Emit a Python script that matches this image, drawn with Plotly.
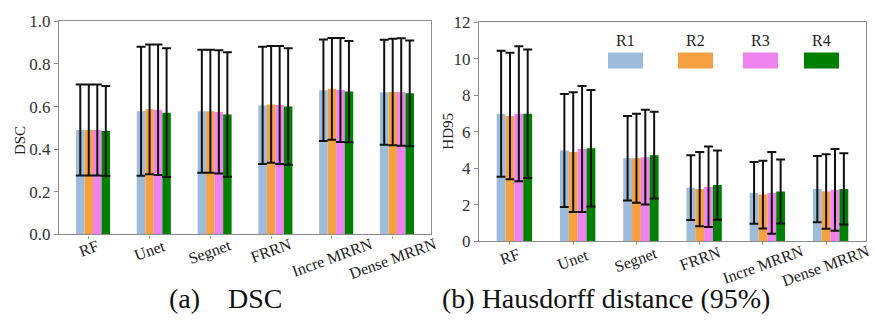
import plotly.graph_objects as go

methods = ["RF", "Unet", "Segnet", "FRRN", "Incre MRRN", "Dense MRRN"]
series = ["R1", "R2", "R3", "R4"]
colors = ["#9dbcdc", "#f5a142", "#ee82ee", "#008000"]

# DSC means and standard deviations (rows: R1..R4, cols: methods)
dsc_mean = [
    [0.490, 0.578, 0.578, 0.605, 0.677, 0.667],
    [0.490, 0.587, 0.578, 0.610, 0.683, 0.668],
    [0.490, 0.585, 0.575, 0.607, 0.678, 0.668],
    [0.485, 0.571, 0.563, 0.600, 0.670, 0.662],
]
dsc_sd = [
    [0.213, 0.302, 0.288, 0.275, 0.238, 0.246],
    [0.213, 0.304, 0.288, 0.274, 0.239, 0.250],
    [0.213, 0.306, 0.289, 0.277, 0.244, 0.252],
    [0.211, 0.302, 0.292, 0.273, 0.237, 0.248],
]
# HD95 means and standard deviations
hd_mean = [
    [6.98, 4.97, 4.54, 2.93, 2.64, 2.85],
    [6.86, 4.88, 4.54, 2.85, 2.55, 2.72],
    [6.98, 5.05, 4.60, 2.98, 2.64, 2.81],
    [6.98, 5.09, 4.71, 3.07, 2.72, 2.86],
]
hd_sd = [
    [3.45, 3.10, 2.32, 1.78, 1.69, 1.82],
    [3.47, 3.28, 2.44, 2.03, 1.86, 2.04],
    [3.70, 3.45, 2.60, 2.21, 2.24, 2.24],
    [3.52, 3.19, 2.38, 1.90, 1.76, 1.95],
]

W, H = 875, 336
bw = 0.14
xs = list(range(len(methods)))
serif = "Liberation Serif, Times New Roman, serif"

fig = go.Figure()
for k, (means, sds, xa, ya) in enumerate([(dsc_mean, dsc_sd, "x", "y"), (hd_mean, hd_sd, "x2", "y2")]):
    for i, s in enumerate(series):
        fig.add_trace(go.Bar(
            x=xs, y=means[i], name=s, xaxis=xa, yaxis=ya,
            width=bw, offset=(i - 1) * bw - bw / 2,
            marker=dict(color=colors[i], line=dict(width=0)),
            error_y=dict(type="data", array=sds[i], visible=True, color="#111111", thickness=2, width=4.5),
            showlegend=False,
        ))

lx0, lx1 = 59 / W, 431 / W
rx0, rx1 = 479 / W, 866 / W
ly0, ly1 = 1 - 239 / H, 1 - 13 / H
ry0, ry1 = 1 - 246 / H, 1 - 14 / H

axis_common = dict(showline=True, linecolor="#8c8c8c", linewidth=1.2, mirror=True, showgrid=False, zeroline=False)
xcommon = dict(axis_common, range=[-0.49, 5.63], tickvals=xs, showticklabels=False,
               ticks="outside", ticklen=3, tickcolor="#d99040")
ycommon = dict(axis_common, ticks="outside", ticklen=4, tickcolor="#8c8c8c",
               tickfont=dict(family=serif, size=17, color="#333333"))

fig.update_layout(
    width=W, height=H, margin=dict(l=0, r=0, t=0, b=0),
    paper_bgcolor="white", plot_bgcolor="white", barmode="overlay",
    xaxis=dict(xcommon, domain=[lx0, lx1], anchor="y"),
    yaxis=dict(ycommon, domain=[ly0, ly1], anchor="x", range=[0, 1.0], tickvals=[0, 0.2, 0.4, 0.6, 0.8, 1.0],
               ticktext=["0.0", "0.2", "0.4", "0.6", "0.8", "1.0"]),
    xaxis2=dict(xcommon, domain=[rx0, rx1], anchor="y2"),
    yaxis2=dict(ycommon, domain=[ry0, ry1], anchor="x2", range=[0, 12], tickvals=[0, 2, 4, 6, 8, 10, 12]),
)

# vertical centres (px) of rotated category labels, per panel
label_cy_left = [254, 256, 258, 256, 263, 264]
label_cy_right = [262, 265, 266, 264, 271, 272]

ann = []
for xa, cys in [("x", label_cy_left), ("x2", label_cy_right)]:
    for j, m in enumerate(methods):
        ann.append(dict(x=j, xref=xa, y=1 - cys[j] / H, yref="paper", text=m, showarrow=False,
                        textangle=-20, xanchor="center", yanchor="middle",
                        font=dict(family=serif, size=16, color="#222222")))
# axis titles
ann.append(dict(x=20 / W, y=1 - 140 / H, xref="paper", yref="paper", text="DSC", textangle=-90, showarrow=False,
                xanchor="center", yanchor="middle", font=dict(family=serif, size=15, color="#222222")))
ann.append(dict(x=448 / W, y=1 - 130 / H, xref="paper", yref="paper", text="HD95", textangle=-90, showarrow=False,
                xanchor="center", yanchor="middle", font=dict(family=serif, size=15, color="#222222")))
# captions
ann.append(dict(x=226 / W, y=1 - 307 / H, xref="paper", yref="paper", text="(a)&nbsp;&nbsp;&nbsp;&nbsp;DSC",
                xanchor="center", yanchor="middle", showarrow=False,
                font=dict(family=serif, size=28, color="#111111")))
ann.append(dict(x=606 / W, y=1 - 307 / H, xref="paper", yref="paper", text="(b) Hausdorff distance (95%)",
                xanchor="center", yanchor="middle", showarrow=False,
                font=dict(family=serif, size=28, color="#111111")))

# legend (labels above swatches)
shapes = []
sw_x = [608, 678, 743, 804]
for i, s in enumerate(series):
    shapes.append(dict(type="rect", xref="paper", yref="paper",
                       x0=sw_x[i] / W, x1=(sw_x[i] + 35) / W, y0=1 - 63 / H, y1=1 - 46 / H,
                       fillcolor=colors[i], line=dict(width=0)))
    ann.append(dict(x=(sw_x[i] + 17.5) / W, y=1 - 33 / H, xref="paper", yref="paper", text=s, showarrow=False,
                    xanchor="center", yanchor="middle", font=dict(family=serif, size=16, color="#222222")))

fig.update_layout(annotations=ann, shapes=shapes)
fig.write_html("out.html")
